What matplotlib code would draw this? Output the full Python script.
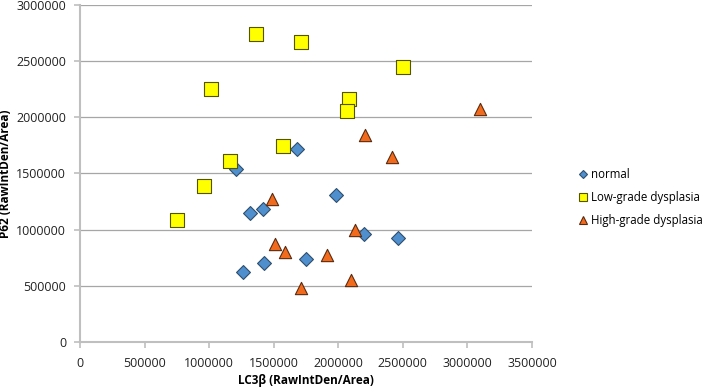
#!/usr/bin/env python3
"""Scatter of P62 vs LC3b intensity for normal / low-grade / high-grade samples."""

import matplotlib
matplotlib.use("Agg")
import matplotlib.pyplot as plt
from matplotlib.lines import Line2D
from matplotlib.ticker import MultipleLocator, FuncFormatter

plt.rcParams["font.family"] = ["Open Sans", "DejaVu Sans"]

# LC3b (x) and P62 (y), RawIntDen/Area
normal_x = [1680000, 1210000, 1320000, 1420000, 1980000, 1265000, 1425000, 1750000, 2200000, 2465000]
normal_y = [1720000, 1540000, 1150000, 1180000, 1310000, 620000, 700000, 740000, 960000, 930000]

low_x = [1360000, 1715000, 1015000, 2085000, 2070000, 1570000, 1160000, 960000, 750000, 2500000]
low_y = [2740000, 2670000, 2250000, 2165000, 2060000, 1745000, 1615000, 1390000, 1090000, 2445000]

high_x = [3095000, 2210000, 2415000, 1490000, 2130000, 1510000, 1585000, 1915000, 1715000, 2095000]
high_y = [2070000, 1840000, 1645000, 1275000, 1000000, 870000, 805000, 775000, 485000, 550000]

labels = ["normal", "Low-grade dysplasia", "High-grade dysplasia"]

# marker, face, edge, scatter size, legend size
styles = [
    ("D", "#4f8fcd", "#2f4f6f", 50, 4.2),
    ("s", "#ffff00", "#555500", 100, 6.2),
    ("^", "#f26b1d", "#5a2a10", 78, 6.0),
]

fig = plt.figure(figsize=(7.06, 3.88), dpi=100)
ax = fig.add_axes([0.1133, 0.1186, 0.6402, 0.8685])

handles = []
for (xs, ys), lab, (mk, fc, ec, s, ms) in zip(
        [(normal_x, normal_y), (low_x, low_y), (high_x, high_y)], labels, styles):
    ax.scatter(xs, ys, marker=mk, s=s, c=fc, edgecolors=ec, linewidths=0.8, zorder=3)
    handles.append(Line2D([], [], linestyle="none", marker=mk, markersize=ms,
                          markerfacecolor=fc, markeredgecolor=ec, markeredgewidth=0.8,
                          label=lab))

ax.set_xlim(0, 3500000)
ax.set_ylim(0, 3000000)
ax.xaxis.set_major_locator(MultipleLocator(500000))
ax.yaxis.set_major_locator(MultipleLocator(500000))
plain = FuncFormatter(lambda v, p: f"{int(round(v))}")
ax.xaxis.set_major_formatter(plain)
ax.yaxis.set_major_formatter(plain)
ax.grid(axis="y", color="#a6a6a6", linewidth=0.9)
ax.set_axisbelow(True)

for s in ("top", "right"):
    ax.spines[s].set_visible(False)
for s in ("left", "bottom"):
    ax.spines[s].set_color("#bfbfbf")
    ax.spines[s].set_linewidth(1.5)
ax.tick_params(axis="both", direction="out", length=4, color="#bfbfbf", width=1.2,
               labelsize=9, labelcolor="#222222")
ax.tick_params(axis="x", pad=7)
ax.tick_params(axis="y", pad=6)

ax.set_xlabel("LC3β (RawIntDen/Area)", fontsize=8.5, fontweight="bold", labelpad=3)
ax.set_ylabel("P62 (RawIntDen/Area)", fontsize=8.5, fontweight="bold", labelpad=3)

fig.legend(handles=handles, loc="upper left", bbox_to_anchor=(0.814, 0.578),
           frameon=False, fontsize=8.3, handletextpad=0.3, labelspacing=0.85,
           handlelength=0.7, borderaxespad=0)

fig.savefig("out.png", dpi=100)
